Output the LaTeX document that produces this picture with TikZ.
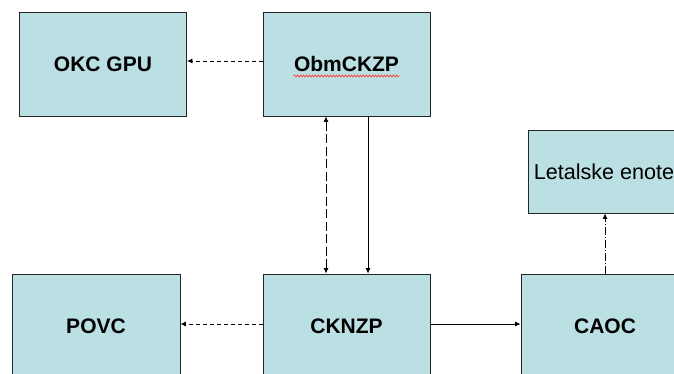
\documentclass[tikz,border=0pt]{standalone}
\usepackage{fontspec}
\setmainfont{Liberation Sans}
\usetikzlibrary{arrows.meta,decorations.pathmorphing}
\definecolor{boxteal}{HTML}{BBE0E3}

\begin{document}
\begin{tikzpicture}[x=1pt,y=-1pt,>={Latex[length=5.5pt,width=5pt]},
  unit/.style={draw=black!85,fill=boxteal,line width=0.9pt,
    minimum width=167pt,minimum height=104pt,inner sep=0pt,
    font=\fontsize{21}{25}\selectfont\bfseries},
  link/.style={->,line width=0.8pt},
  shortdash/.style={dash pattern=on 4pt off 3pt},
  longdash/.style={dash pattern=on 9pt off 3.5pt},
  dashdot/.style={dash pattern=on 8pt off 2pt on 1pt off 2pt}]
  \useasboundingbox (0,0) rectangle (674,374);
  \clip (0,0) rectangle (674,374);
  % upper row
  \node[unit] (okc) at (103,64) {OKC GPU};
  \node[unit] (obm) at (346.5,64) {ObmCKZP};
  \node[unit,minimum width=152pt,minimum height=83pt,font=\fontsize{21.6}{25}\selectfont] (let) at (604,171.5) {Letalske enote};
  % lower row
  \node[unit,minimum width=168pt] (povc) at (96,326) {POVC};
  \node[unit] (cknzp) at (346.5,326) {CKNZP};
  \node[unit,minimum width=168pt] (caoc) at (605,326) {CAOC};
  % spelling mark under ObmCKZP
  \draw[red!75,line width=0.7pt,decorate,decoration={snake,amplitude=1pt,segment length=3pt}]
    ([xshift=-53pt,yshift=-12pt]obm.center) -- ([xshift=53pt,yshift=-12pt]obm.center);
  % connectors
  \draw[link,shortdash] ([yshift=3pt]obm.west) -- ([yshift=3pt]okc.east);
  \draw[link,longdash,<->] ([xshift=-20.5pt]obm.south) -- ([xshift=-20.5pt]cknzp.north);
  \draw[link] ([xshift=21.5pt]obm.south) -- ([xshift=21.5pt]cknzp.north);
  \draw[link,shortdash] ([yshift=2pt]cknzp.west) -- ([yshift=2pt]povc.east);
  \draw[link] ([yshift=2pt]cknzp.east) -- ([yshift=2pt]caoc.west);
  \draw[link,dashdot] (caoc.north) -- (caoc.north |- let.south);
\end{tikzpicture}
\end{document}
